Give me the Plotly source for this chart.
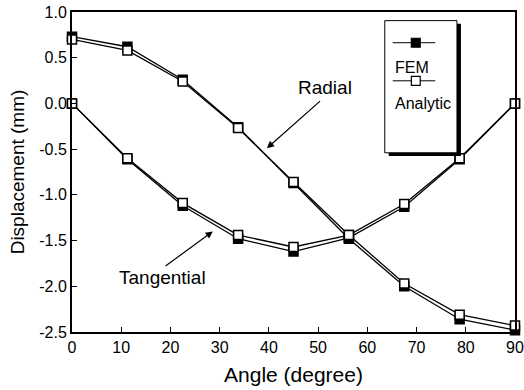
import plotly.graph_objects as go

angles = [0, 11.25, 22.5, 33.75, 45, 56.25, 67.5, 78.75, 90]
radial_fem = [0.73, 0.62, 0.26, -0.26, -0.87, -1.48, -2.00, -2.36, -2.48]
radial_analytic = [0.70, 0.58, 0.24, -0.27, -0.86, -1.44, -1.97, -2.31, -2.43]
tangential_fem = [0.0, -0.61, -1.12, -1.48, -1.62, -1.47, -1.13, -0.61, 0.0]
tangential_analytic = [0.0, -0.60, -1.09, -1.44, -1.57, -1.44, -1.10, -0.60, 0.0]

x_ticks = [0, 10, 20, 30, 40, 50, 60, 70, 80, 90]
y_ticks = [1.0, 0.5, 0.0, -0.5, -1.0, -1.5, -2.0, -2.5]
y_tick_labels = ["1.0", "0.5", "0.0", "-0.5", "-1.0", "-1.5", "-2.0", "-2.5"]

FONT = "Liberation Sans, Arial, sans-serif"

fig = go.Figure()

def add(y, filled, name):
    fig.add_trace(go.Scatter(
        x=angles, y=y, mode="lines+markers", name=name, showlegend=False,
        line=dict(color="black", width=1.3),
        marker=dict(symbol="square", size=9,
                    color="black" if filled else "white",
                    line=dict(color="black", width=1.5)),
        cliponaxis=False, hoverinfo="skip",
    ))

add(radial_fem, True, "Radial FEM")
add(tangential_fem, True, "Tangential FEM")
add(radial_analytic, False, "Radial Analytic")
add(tangential_analytic, False, "Tangential Analytic")

axis_common = dict(
    showline=True, linecolor="black", linewidth=2, mirror=True,
    ticks="inside", ticklen=5, tickcolor="black", tickwidth=1.2,
    showgrid=False, zeroline=False, automargin=False,
    tickfont=dict(family=FONT, size=16, color="black"),
)

fig.update_xaxes(range=[0, 90], tickvals=x_ticks,
                 title=dict(text="Angle (degree)", font=dict(family=FONT, size=21, color="black"), standoff=12),
                 **axis_common)
fig.update_yaxes(range=[-2.5, 1.0], tickvals=y_ticks, ticktext=y_tick_labels,
                 title=dict(text="Displacement (mm)", font=dict(family=FONT, size=19, color="black"), standoff=10),
                 **axis_common)

# annotations with arrows
fig.add_annotation(x=39.6, y=-0.49, ax=50.7, ay=0.04, xref="x", yref="y", axref="x", ayref="y",
                   showarrow=True, arrowhead=2, arrowsize=1.2, arrowwidth=1.2, arrowcolor="black", text="")
fig.add_annotation(x=51.4, y=0.17, text="Radial", showarrow=False,
                   font=dict(family=FONT, size=19, color="black"))
fig.add_annotation(x=28.6, y=-1.40, ax=18.7, ay=-1.79, xref="x", yref="y", axref="x", ayref="y",
                   showarrow=True, arrowhead=2, arrowsize=1.2, arrowwidth=1.2, arrowcolor="black", text="")
fig.add_annotation(x=18.4, y=-1.90, text="Tangential", showarrow=False,
                   font=dict(family=FONT, size=19, color="black"))

# legend box with shadow (paper coords)
bx0, bx1, by0, by1 = 0.706, 0.869, 0.560, 0.973
fig.add_shape(type="rect", xref="paper", yref="paper", x0=bx0 + 0.009, x1=bx1 + 0.009,
              y0=by0 - 0.010, y1=by1 - 0.010, fillcolor="black", line=dict(width=0))
fig.add_shape(type="rect", xref="paper", yref="paper", x0=bx0, x1=bx1, y0=by0, y1=by1,
              fillcolor="white", line=dict(color="black", width=1))

def legend_item(y_sym, y_txt, filled, label):
    fig.add_shape(type="line", xref="paper", yref="paper", x0=0.724, x1=0.820, y0=y_sym, y1=y_sym,
                  line=dict(color="black", width=1))
    fig.add_shape(type="rect", xref="paper", yref="paper", x0=0.766, x1=0.786,
                  y0=y_sym - 0.014, y1=y_sym + 0.014,
                  fillcolor="black" if filled else "white", line=dict(color="black", width=1.2))
    fig.add_annotation(x=0.724, y=y_txt, xref="paper", yref="paper", text=label, showarrow=False,
                       xanchor="left", yanchor="middle",
                       font=dict(family=FONT, size=16, color="black"))

legend_item(0.904, 0.826, True, "FEM")
legend_item(0.785, 0.713, False, "Analytic")

fig.update_layout(
    width=524, height=390,
    margin=dict(l=72, r=9, t=12, b=58),
    plot_bgcolor="white", paper_bgcolor="white",
    font=dict(family=FONT, color="black"),
    hovermode=False,
)

fig.write_html("out.html", config={"displayModeBar": False},
               post_script="document.body.style.margin='0';document.body.style.overflow='hidden';")
